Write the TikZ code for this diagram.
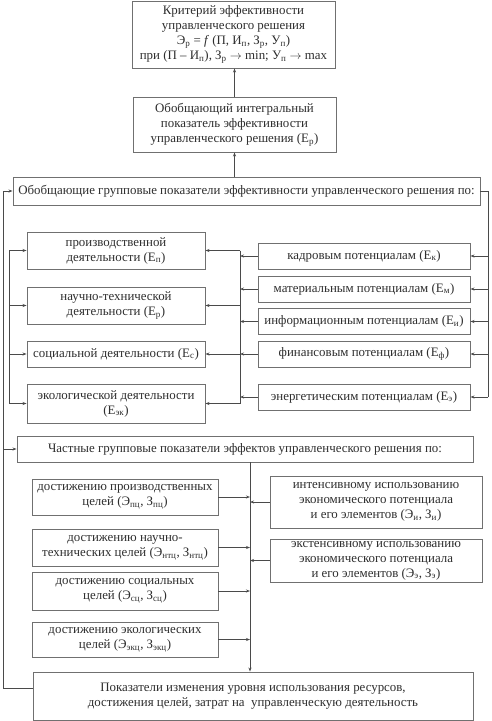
\documentclass[tikz,border=0pt]{standalone}
\usepackage{fontspec}
\setmainfont{Liberation Serif}
\usepackage{tikz}
\usetikzlibrary{arrows.meta}
\definecolor{linegray}{HTML}{4A4A4A}
\definecolor{boxgray}{HTML}{707070}
\definecolor{textgray}{HTML}{2E2E2E}
\newcommand{\ix}[1]{\textsubscript{#1}}

\begin{document}
\begin{tikzpicture}[
    x=1pt, y=-1pt, % координаты в пикселях исходного рисунка
    % Стили блоков
    box/.style={
        draw=boxgray, fill=white, line width=0.9pt, text=textgray,
        align=center, inner sep=2pt,
        font=\fontsize{12.9}{15}\selectfont
    },
    ubox/.style={box, minimum width=178pt},
    rbox/.style={box, minimum width=212pt, minimum height=26pt},
    dbox/.style={box, minimum width=186pt},
    ebox/.style={box, minimum width=212pt},
    % Стили линий
    arrow/.style={
        -{Stealth[length=4pt, width=3pt]}, line width=0.7pt, color=linegray
    },
    link/.style={line width=0.7pt, color=linegray}
]
    \useasboundingbox (0,0) rectangle (491,721);

    % 1. Критерий и интегральный показатель
    \node[box, minimum width=203pt, minimum height=67pt] (crit) at (233.5, 34.5)
        {Критерий эффективности\\управленческого решения\\
         Э\ix{р} = \textit{f} (П, И\ix{п}, З\ix{р}, У\ix{п})\\
         при (П – И\ix{п}), З\ix{р} $\rightarrow$ min; У\ix{п} $\rightarrow$ max};
    \node[box, minimum width=203pt, minimum height=55pt] (integ) at (234.5, 124.5)
        {Обобщающий интегральный\\показатель эффективности\\управленческого решения (Е\ix{р})};

    % 2. Обобщающие групповые показатели
    \node[box, minimum width=467pt, minimum height=28pt] (grp) at (246.5, 191)
        {Обобщающие групповые показатели эффективности управленческого решения по:};

    % 3. Виды деятельности (слева)
    \node[ubox, minimum height=37pt] (prod)  at (116, 250.5) {производственной\\деятельности (Е\ix{п})};
    \node[ubox, minimum height=37pt] (nauch) at (116, 305.5) {научно-технической\\деятельности (Е\ix{р})};
    \node[ubox, minimum height=26pt] (soc)   at (116, 354)   {социальной деятельности (Е\ix{с})};
    \node[ubox, minimum height=39pt] (eko)   at (116, 403.5) {экологической деятельности\\(Е\ix{эк})};

    % 4. Потенциалы (справа)
    \node[rbox] (kadr)  at (364, 256)   {кадровым потенциалам (Е\ix{к})};
    \node[rbox] (mat)   at (364, 289)   {материальным потенциалам (Е\ix{м})};
    \node[rbox] (inf)   at (364, 321.5) {информационным потенциалам (Е\ix{и})};
    \node[rbox] (fin)   at (364, 354)   {финансовым потенциалам (Е\ix{ф})};
    \node[rbox] (energ) at (364, 397)   {энергетическим потенциалам (Е\ix{э})};

    % 5. Частные групповые показатели
    \node[box, minimum width=456pt, minimum height=26pt] (chast) at (245, 449)
        {Частные групповые показатели эффектов управленческого решения по:};

    \node[dbox, minimum height=36pt] (dprod)  at (125, 497)   {достижению производственных\\целей (Э\ix{пц}, З\ix{пц})};
    \node[dbox, minimum height=37pt] (dnauch) at (125, 547.5) {достижению научно-\\технических целей (Э\ix{нтц}, З\ix{нтц})};
    \node[dbox, minimum height=38pt] (dsoc)   at (125, 591)   {достижению социальных\\целей (Э\ix{сц}, З\ix{сц})};
    \node[dbox, minimum height=35pt] (deko)   at (125, 639.5) {достижению экологических\\целей (Э\ix{экц}, З\ix{экц})};

    \node[ebox, minimum height=52pt] (intens) at (376, 502)
        {интенсивному использованию\\экономического потенциала\\и его элементов (Э\ix{и}, З\ix{и})};
    \node[ebox, minimum height=43pt] (ekst)   at (376, 560.5)
        {экстенсивному использованию\\экономического потенциала\\и его элементов (Э\ix{э}, З\ix{э})};

    % 6. Итоговые показатели
    \node[box, minimum width=440pt, minimum height=48pt] (pokaz) at (253, 696)
        {Показатели изменения уровня использования ресурсов,\\
         достижения целей, затрат на\ \ управленческую деятельность};

    % 7. Шины соединителей
    \coordinate (RB) at (488, 0);
    \coordinate (MB) at (240, 0);
    \coordinate (LB) at (9, 0);
    \coordinate (OL) at (3, 0);
    \coordinate (CB) at (250, 0);
    \coordinate (pin) at ([yshift=8pt]pokaz.west);

    % 8. Верхняя часть
    \draw[arrow] (integ.north) -- (integ.north |- crit.south);
    \draw[arrow] (grp.north -| integ.north) -- (integ.south);

    \draw[link] (grp.east) -- (RB |- grp.east) -- (RB |- energ.east);
    \foreach \n in {kadr, mat, inf, fin, energ}
        \draw[arrow] (RB |- \n.east) -- (\n.east);
    \foreach \n in {kadr, mat, inf, fin, energ}
        \draw[arrow] (\n.west) -- (MB |- \n.west);

    \draw[link] (MB |- prod.east) -- (MB |- eko.east);
    \foreach \n in {prod, nauch, soc, eko}
        \draw[arrow] (MB |- \n.east) -- (\n.east);

    \draw[link] (LB |- prod.west) -- (LB |- eko.west);
    \foreach \n in {prod, nauch, soc, eko}
        \draw[arrow] (LB |- \n.west) -- (\n.west);

    % 9. Обратная связь слева
    \draw[arrow] (pin) -- (OL |- pin) -- (OL |- grp.west) -- (grp.west);
    \draw[arrow] (OL |- chast.west) -- (chast.west);

    % 10. Нижняя часть
    \draw[arrow] (CB |- chast.south) -- (CB |- pokaz.north);
    \foreach \n in {dprod, dnauch, dsoc, deko}
        \draw[arrow] (\n.east) -- (CB |- \n.east);
    \foreach \n in {intens, ekst}
        \draw[arrow] (\n.west) -- (CB |- \n.west);

\end{tikzpicture}
\end{document}
